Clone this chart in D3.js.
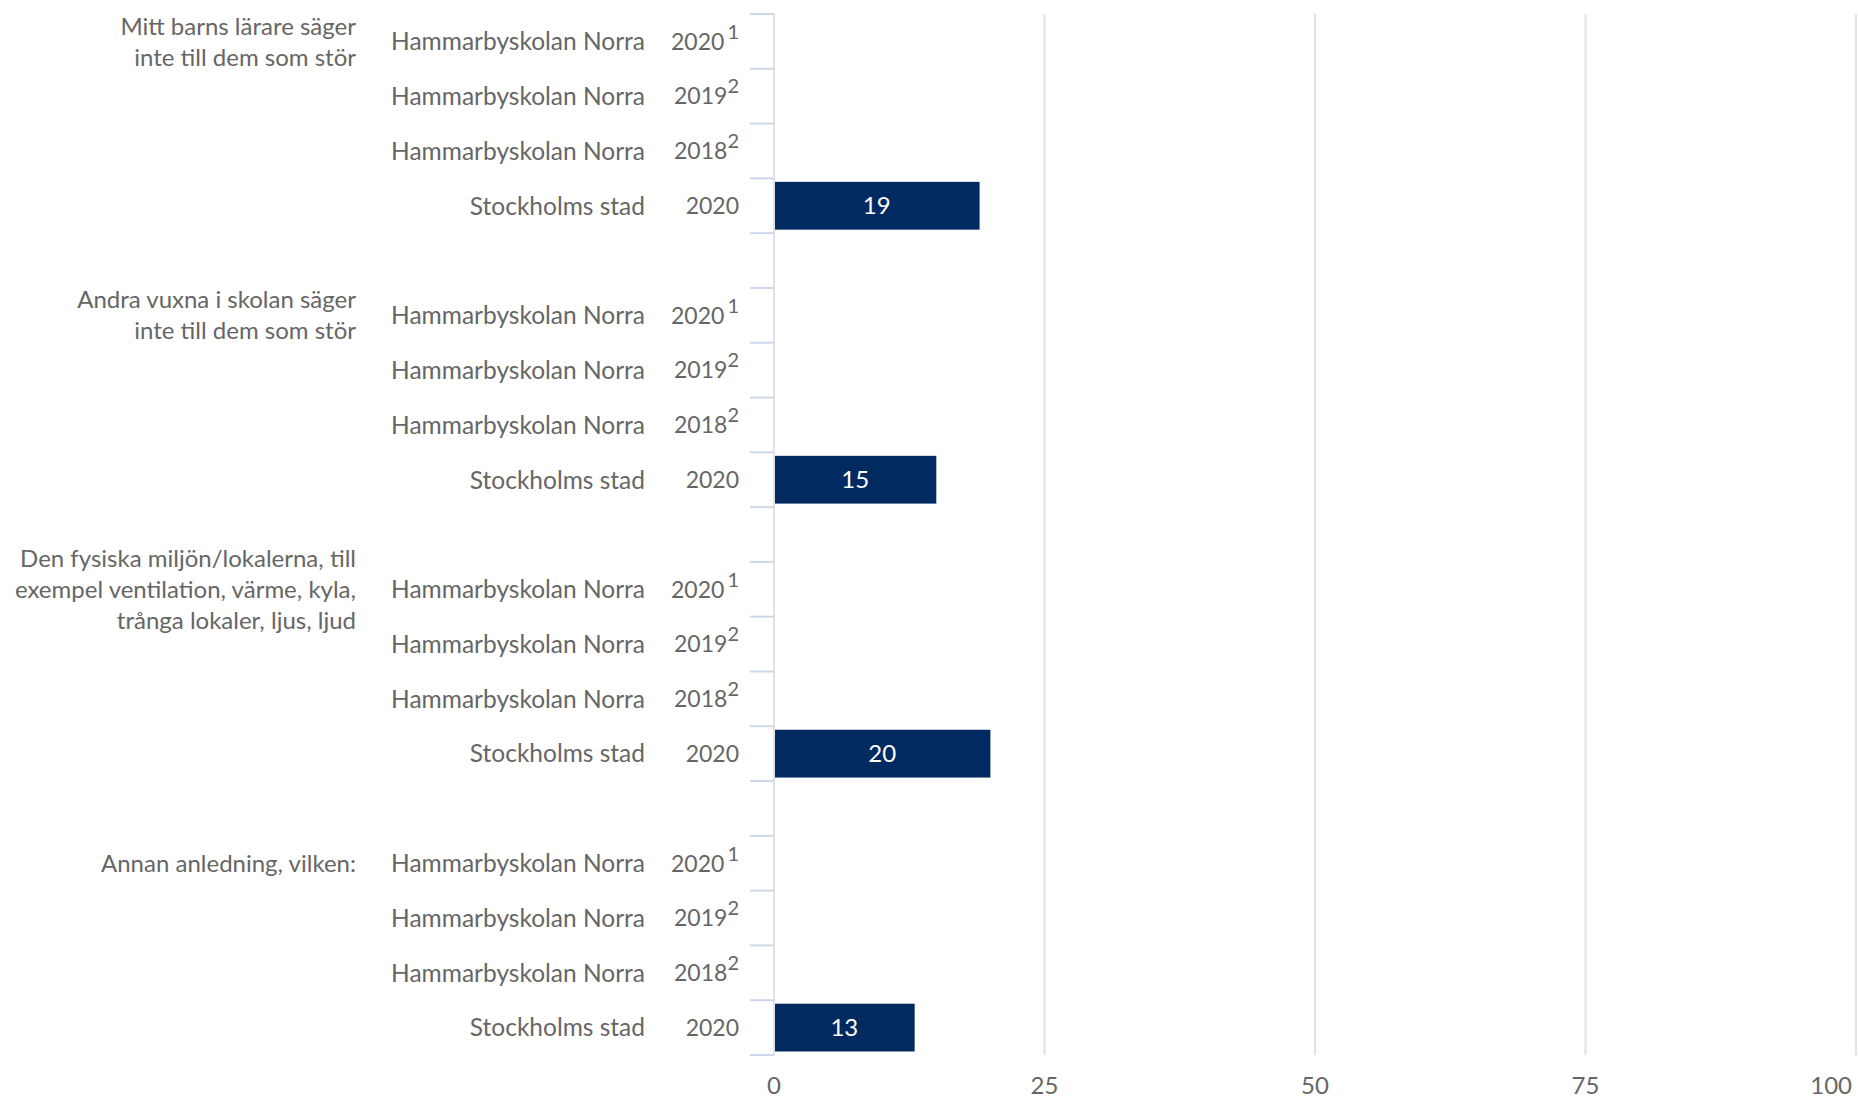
<!DOCTYPE html>
<html>
<head>
<meta charset="utf-8">
<script src="https://cdn.jsdelivr.net/npm/d3@7"></script>
<style>
    body { margin: 0; background: #fff; }
    text { font-family: Lato, "Open Sans", sans-serif; }
</style>
</head>
<body>
<div id="chart"></div>
<script>
const questions = [
    ["Mitt barns lärare säger", "inte till dem som stör"],
    ["Andra vuxna i skolan säger", "inte till dem som stör"],
    ["Den fysiska miljön/lokalerna, till", "exempel ventilation, värme, kyla,", "trånga lokaler, ljus, ljud"],
    ["Annan anledning, vilken:"]
];
const units = ["Hammarbyskolan Norra", "Hammarbyskolan Norra", "Hammarbyskolan Norra", "Stockholms stad"];
const years = ["2020", "2019", "2018", "2020"];
const notes = ["1", "2", "2", ""];
// only Stockholms stad has values, the school rows are empty
const values = [
    [null, null, null, 19],
    [null, null, null, 15],
    [null, null, null, 20],
    [null, null, null, 13]
];
const xTicks = [0, 25, 50, 75, 100];

const width = 1858;
const height = 1100;
const textColor = "#666666";
const barColor = "#012a60";

const svg = d3.select("#chart")
    .append("svg")
    .attr("width", width)
    .attr("height", height);

// one band per row, plus an empty band between groups
const rows = [];
const bandKeys = [];
questions.forEach((q, g) => {
    units.forEach((u, i) => {
        const key = `${g}-${i}`;
        rows.push({ key, group: g, index: i, unit: u, year: years[i], note: notes[i], value: values[g][i] });
        bandKeys.push(key);
    });
    if (g < questions.length - 1) bandKeys.push(`gap-${g}`);
});

const y = d3.scaleBand().domain(bandKeys).range([14, 1055]).padding(0);
const x = d3.scaleLinear().domain([0, 100]).range([774, 1856]);

// gridlines
svg.append("g")
    .selectAll("line")
    .data(xTicks.filter(t => t > 0))
    .enter()
    .append("line")
    .attr("x1", d => x(d))
    .attr("x2", d => x(d))
    .attr("y1", y.range()[0])
    .attr("y2", y.range()[1])
    .attr("stroke", "#e2e2e2")
    .attr("stroke-width", 2);

// axis line at 0
svg.append("line")
    .attr("x1", x(0)).attr("x2", x(0))
    .attr("y1", y.range()[0]).attr("y2", y.range()[1])
    .attr("stroke", "#e0e3ea")
    .attr("stroke-width", 2);

// small tick marks at the row boundaries
const tickYs = [];
questions.forEach((q, g) => {
    tickYs.push(y(`${g}-0`));
    units.forEach((u, i) => tickYs.push(y(`${g}-${i}`) + y.bandwidth()));
});
svg.append("g")
    .selectAll("line")
    .data(tickYs)
    .enter()
    .append("line")
    .attr("x1", x(0) - 24)
    .attr("x2", x(0))
    .attr("y1", d => d)
    .attr("y2", d => d)
    .attr("stroke", "#cdd7ec")
    .attr("stroke-width", 2);

// bars
const barRows = rows.filter(r => r.value != null);
const inset = 3.5;
svg.append("g")
    .selectAll("rect")
    .data(barRows)
    .enter()
    .append("rect")
    .attr("x", x(0) + 1)
    .attr("y", r => y(r.key) + inset)
    .attr("width", r => x(r.value) - x(0) - 1)
    .attr("height", y.bandwidth() - inset * 2)
    .attr("fill", barColor);

svg.append("g")
    .selectAll("text")
    .data(barRows)
    .enter()
    .append("text")
    .attr("x", r => (x(0) + x(r.value)) / 2)
    .attr("y", r => y(r.key) + y.bandwidth() / 2)
    .attr("dy", "0.36em")
    .attr("text-anchor", "middle")
    .style("font-size", "24px")
    .style("fill", "#fff")
    .text(r => r.value);

// unit labels
svg.append("g")
    .selectAll("text")
    .data(rows)
    .enter()
    .append("text")
    .attr("x", 645)
    .attr("y", r => y(r.key) + y.bandwidth() / 2)
    .attr("dy", "0.36em")
    .attr("text-anchor", "end")
    .style("font-size", "24.5px")
    .style("fill", textColor)
    .text(r => r.unit);

// year labels with footnote markers
const yearText = svg.append("g")
    .selectAll("text")
    .data(rows)
    .enter()
    .append("text")
    .attr("x", 739)
    .attr("y", r => y(r.key) + y.bandwidth() / 2)
    .attr("dy", "0.36em")
    .attr("text-anchor", "end")
    .style("font-size", "23px")
    .style("fill", textColor);
yearText.append("tspan").text(r => r.year);
yearText.filter(r => r.note)
    .append("tspan")
    .attr("dy", "-0.55em")
    .attr("dx", r => r.note === "1" ? "3" : "0")
    .style("font-size", "20px")
    .text(r => r.note);

// question labels, block centred on the group's first row
const lineHeight = 31;
const qText = svg.append("g")
    .selectAll("text")
    .data(questions)
    .enter()
    .append("text")
    .attr("text-anchor", "end")
    .style("font-size", "24px")
    .style("fill", textColor)
    .attr("transform", (q, g) => {
        const cy = y(`${g}-0`) + y.bandwidth() / 2 - (q.length - 1) * lineHeight / 2;
        return `translate(356,${cy})`;
    });
qText.selectAll("tspan")
    .data(q => q)
    .enter()
    .append("tspan")
    .attr("x", 0)
    .attr("y", (d, i) => i * lineHeight)
    .attr("dy", "0.36em")
    .text(d => d);

// x axis labels
svg.append("g")
    .selectAll("text")
    .data(xTicks)
    .enter()
    .append("text")
    .attr("x", d => d === 100 ? x(d) - 4 : x(d))
    .attr("y", 1085)
    .attr("dy", "0.36em")
    .attr("text-anchor", d => d === 100 ? "end" : "middle")
    .style("font-size", "24px")
    .style("fill", textColor)
    .text(d => d);
</script>
</body>
</html>
